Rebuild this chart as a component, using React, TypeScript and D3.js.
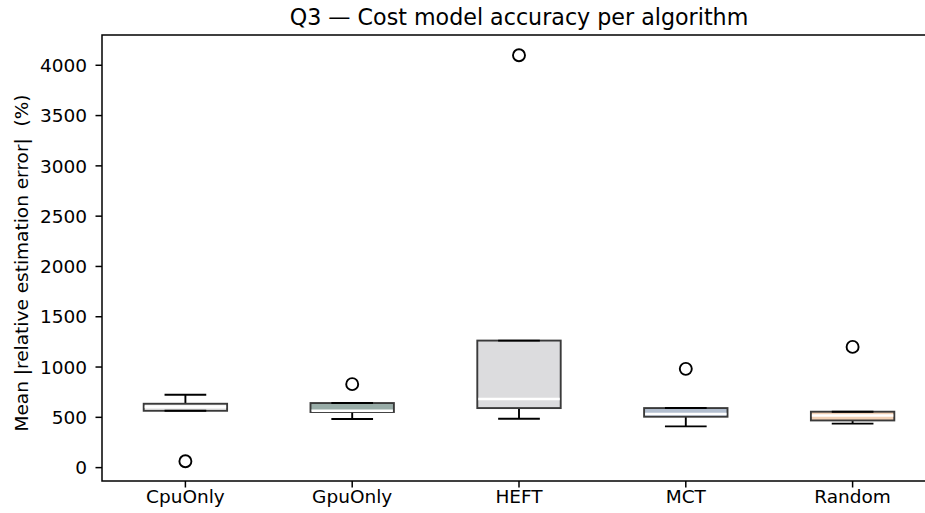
import { useEffect, useRef } from 'react'
import * as d3 from 'd3'

// per-algorithm box stats (percent)
const algorithms = ['CpuOnly', 'GpuOnly', 'HEFT', 'MCT', 'Random']
const whiskerLow = [565, 483, 486, 410, 437]
const q1 = [565, 553, 592, 506, 469]
const medians = [605, 565, 681, 533, 519]
const q3 = [635, 642, 1263, 592, 556]
const whiskerHigh = [724, 642, 1263, 592, 556]
const outliers = [[63], [830], [4100], [982], [1200]]
const fills = ['#efefef', '#98aca7', '#dcdcde', '#b3bfd0', '#f2d0b4']
const yTicks = [0, 500, 1000, 1500, 2000, 2500, 3000, 3500, 4000]

const W = 925
const H = 513
const margin = { top: 35, right: -11, bottom: 32, left: 102 }
const FONT = 'DejaVu Sans, sans-serif'
const TICK_FS = 18.5

export default function App() {
  const svgRef = useRef<SVGSVGElement>(null)

  useEffect(() => {
    if (!svgRef.current) return
    const svg = d3.select(svgRef.current)
    svg.selectAll('*').remove()

    const x0 = margin.left
    const x1 = W - margin.right
    const y0 = margin.top
    const y1 = H - margin.bottom

    const x = d3.scaleLinear().domain([0.5, algorithms.length + 0.5]).range([x0, x1])
    const y = d3.scaleLinear().domain([-133, 4301]).range([y1, y0])
    const half = (x(0.25) - x(0))
    const capHalf = half / 2

    const g = svg.append('g')

    // boxes
    algorithms.forEach((name, i) => {
      const cx = x(i + 1)
      const b = g.append('g')
      // whiskers
      b.append('line').attr('x1', cx).attr('x2', cx).attr('y1', y(q1[i])).attr('y2', y(whiskerLow[i]))
        .attr('stroke', '#000').attr('stroke-width', 1.9)
      b.append('line').attr('x1', cx).attr('x2', cx).attr('y1', y(q3[i])).attr('y2', y(whiskerHigh[i]))
        .attr('stroke', '#000').attr('stroke-width', 1.9)
      b.append('rect')
        .attr('x', cx - half)
        .attr('y', y(q3[i]))
        .attr('width', half * 2)
        .attr('height', y(q1[i]) - y(q3[i]))
        .attr('fill', fills[i])
        .attr('stroke', '#3a3a3a')
        .attr('stroke-width', 1.9)
      // median
      b.append('line').attr('x1', cx - half + 1).attr('x2', cx + half - 1)
        .attr('y1', y(medians[i])).attr('y2', y(medians[i]))
        .attr('stroke', '#ffffff').attr('stroke-width', 2.5)
      // caps
      ;[whiskerLow[i], whiskerHigh[i]].forEach(v => {
        b.append('line').attr('x1', cx - capHalf).attr('x2', cx + capHalf)
          .attr('y1', y(v)).attr('y2', y(v))
          .attr('stroke', '#000').attr('stroke-width', 1.9)
      })
      outliers[i].forEach(v => {
        b.append('circle').attr('cx', cx).attr('cy', y(v)).attr('r', 6)
          .attr('fill', 'none').attr('stroke', '#000').attr('stroke-width', 1.9)
      })
    })

    // frame
    g.append('rect').attr('x', x0).attr('y', y0).attr('width', x1 - x0).attr('height', y1 - y0)
      .attr('fill', 'none').attr('stroke', '#000').attr('stroke-width', 1.5)

    // y axis
    yTicks.forEach(t => {
      g.append('line').attr('x1', x0 - 6.5).attr('x2', x0).attr('y1', y(t)).attr('y2', y(t))
        .attr('stroke', '#000').attr('stroke-width', 1.5)
      g.append('text').attr('x', x0 - 15).attr('y', y(t)).attr('dy', '0.36em')
        .attr('text-anchor', 'end').attr('font-family', FONT).attr('font-size', TICK_FS).attr('fill', '#000')
        .text(t)
    })

    // x axis
    algorithms.forEach((name, i) => {
      const cx = x(i + 1)
      g.append('line').attr('x1', cx).attr('x2', cx).attr('y1', y1).attr('y2', y1 + 6.5)
        .attr('stroke', '#000').attr('stroke-width', 1.5)
      g.append('text').attr('x', cx).attr('y', y1 + 22)
        .attr('text-anchor', 'middle').attr('font-family', FONT).attr('font-size', TICK_FS).attr('fill', '#000')
        .text(name)
    })

    // labels
    g.append('text')
      .attr('transform', `translate(22,263) rotate(-90)`)
      .attr('dy', '0.35em')
      .style('white-space', 'pre')
      .attr('text-anchor', 'middle').attr('font-family', FONT).attr('font-size', TICK_FS).attr('fill', '#000')
      .text('Mean |relative estimation error|  (%)')

    g.append('text')
      .attr('x', (x0 + x1) / 2).attr('y', 25)
      .attr('text-anchor', 'middle').attr('font-family', FONT).attr('font-size', 22.2).attr('fill', '#000')
      .text('Q3 — Cost model accuracy per algorithm')
  }, [])

  return (
    <div style={{ position: 'absolute', left: 0, top: 0, width: W, height: H, background: '#fff' }}>
      <svg ref={svgRef} width={W} height={H} style={{ display: 'block' }} />
    </div>
  )
}
